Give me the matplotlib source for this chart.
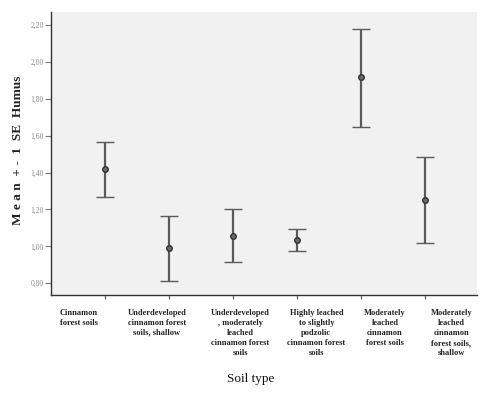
import matplotlib.pyplot as plt
import numpy as np

# Mean humus content (+/- 1 SE) by soil type
soil_types = [
    "Cinnamon\nforest soils",
    "Underdeveloped\ncinnamon forest\nsoils, shallow",
    "Underdeveloped\n, moderately\nleached\ncinnamon forest\nsoils",
    "Highly leached\nto slightly\npodzolic\ncinnamon forest\nsoils",
    "Moderately\nleached\ncinnamon\nforest soils",
    "Moderately\nleached\ncinnamon\nforest soils,\nshallow",
]
means = [1.418, 0.990, 1.056, 1.035, 1.917, 1.251]
lower = [1.266, 0.814, 0.915, 0.977, 1.646, 1.017]
upper = [1.567, 1.165, 1.201, 1.093, 2.180, 1.483]
y_ticks = [0.80, 1.00, 1.20, 1.40, 1.60, 1.80, 2.00, 2.20]

means = np.array(means)
err = [means - np.array(lower), np.array(upper) - means]
x = np.arange(len(soil_types))

plt.rcParams['font.family'] = ['Liberation Serif', 'DejaVu Serif']

fig = plt.figure(figsize=(4.8, 3.93), dpi=100)
ax = fig.add_axes([0.106, 0.2506, 0.888, 0.7189])
ax.set_facecolor('#f0f1f0')

ax.errorbar(x, means, yerr=err, fmt='o', color='#4a4a4a', ecolor='#5a5a5a',
            elinewidth=1.6, capsize=6.3, capthick=1.5,
            markersize=4, markerfacecolor='#6a6a6a', markeredgecolor='#333333',
            markeredgewidth=1.0)

ax.set_xlim(-0.844, 5.81)
ax.set_ylim(0.739, 2.27)

ax.spines['top'].set_visible(False)
ax.spines['right'].set_visible(False)
ax.spines['left'].set_color('#333333')
ax.spines['bottom'].set_color('#333333')
ax.spines['left'].set_linewidth(1.0)
ax.spines['bottom'].set_linewidth(1.0)

ax.set_yticks(y_ticks)
ax.set_yticklabels([f"{v:.2f}".replace('.', ',') for v in y_ticks],
                   fontsize=5.5, color='#8a8a8a')
ax.tick_params(axis='y', length=4, width=0.8, color='#777777', pad=1)

# category labels sit on their own spacing under the ticks
ax.set_xticks(x)
ax.set_xticklabels([])
ax.tick_params(axis='x', length=3, width=0.8, color='#555555')
label_pos = [-0.41, 0.81, 2.11, 3.30, 4.37, 5.41]
for pos, name in zip(label_pos, soil_types):
    ax.text(pos, -0.05, name, transform=ax.get_xaxis_transform(),
            ha='center', va='top', fontsize=6, fontweight='bold',
            color='#222222', linespacing=1.35)

fig.text(0.523, 0.02, "Soil type", ha='center', va='bottom', fontsize=9.5,
         color='#111111')
fig.text(0.037, 0.618, "M e a n  + -  1  SE  Humus", rotation=90,
         ha='center', va='center', fontsize=9.5, fontweight='bold',
         color='#222222')

fig.savefig('out.png', dpi=100)
